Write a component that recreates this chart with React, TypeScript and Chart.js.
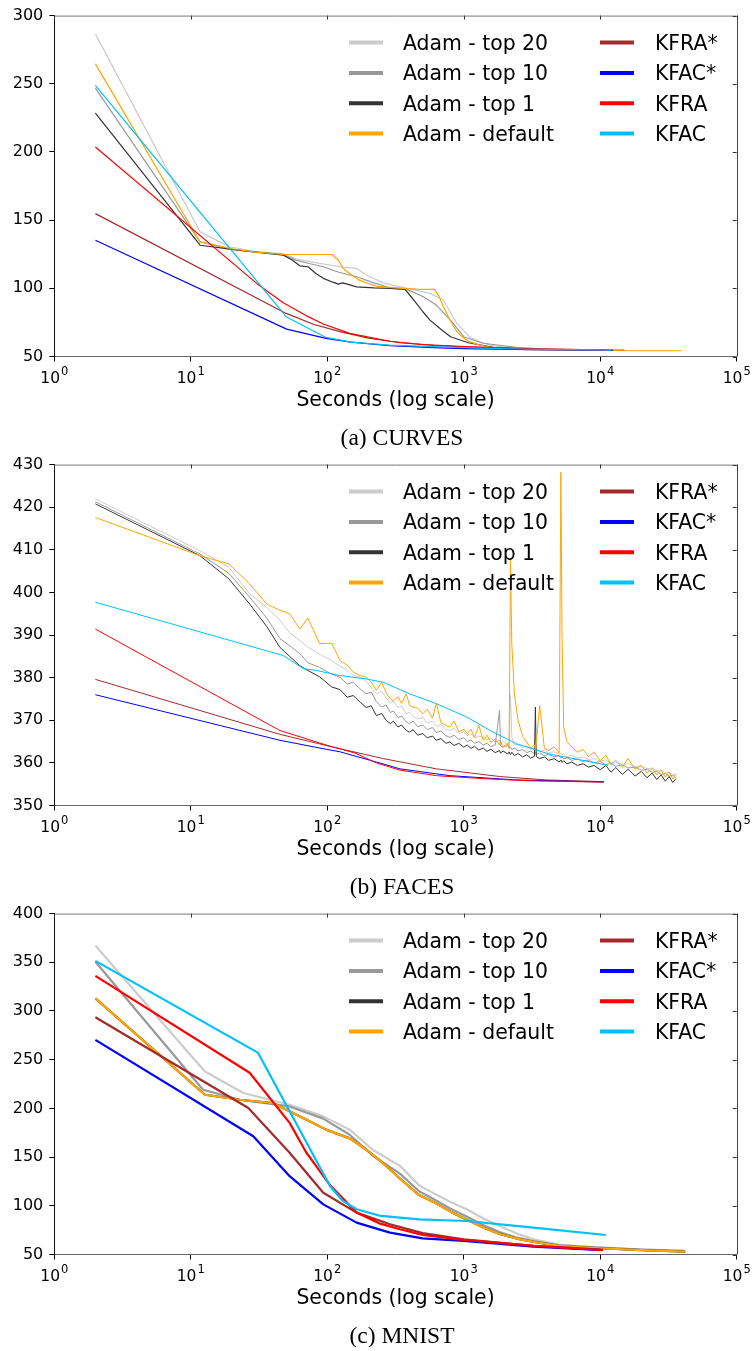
import React, { useEffect, useRef } from "react";
import { Chart, registerables } from "chart.js";

Chart.register(...registerables);

const SERIES_LABELS = ["Adam - top 20", "Adam - top 10", "Adam - top 1", "Adam - default", "KFRA*", "KFAC*", "KFRA", "KFAC"];
const SERIES_COLORS = ["#cccccc", "#999999", "#333333", "#ffa500", "#a52a2a", "#0000ff", "#ff0000", "#00bfff"];
const X_TICK_VALUES = [1, 10, 100, 1000, 10000, 100000];
const X_TICK_BASE = "10";
const X_TITLE = "Seconds (log scale)";
const CAPTIONS = ["(a) CURVES", "(b) FACES", "(c) MNIST"];

// ---------- (a) CURVES ----------
const aTop20T = [2, 11.7, 19.3, 30, 47, 60, 80, 105, 130, 164, 200, 258, 300, 371, 450, 566, 710, 890, 1100, 1300, 1560, 2000, 3000, 5000, 10000, 15000];
const aTop20V = [286.6, 141.4, 130.4, 127, 125.5, 121.5, 119, 117, 115.5, 114.6, 109, 104, 102.3, 100.3, 98.5, 96.3, 91.4, 74.3, 64.5, 61, 58.4, 56.7, 55.5, 55, 54.6, 54.5];
const aTop10T = [2, 11.7, 20, 30, 47, 59, 75, 93.5, 120, 164, 220, 288, 371, 430, 505, 630, 800, 1000, 1380, 2430, 4000, 10000, 15000];
const aTop10V = [246.8, 134, 128.5, 126.5, 125, 120.7, 118, 115.8, 112, 108.5, 104, 100.4, 99.8, 97, 93.8, 87.7, 76.7, 64.5, 59.7, 56.7, 55.5, 54.6, 54.5];
const aTop1T = [2, 11.7, 20, 30, 47.6, 55, 62.9, 72.5, 82, 93.5, 110, 120, 130, 164, 220, 288, 371, 410, 450, 500, 566, 680, 800, 1080, 1650, 3000, 10000, 15000];
const aTop1V = [228.5, 131.6, 128.5, 126.5, 124.3, 121, 116.5, 115.8, 111, 107.3, 104.5, 103.1, 104, 101.1, 100.3, 100, 99.2, 94, 89, 83, 76.7, 70, 64.5, 60.1, 56.7, 55.2, 54.6, 54.5];
const aDefaultT = [2, 11.7, 20, 30, 47.6, 70, 108, 120, 131, 150, 172, 200, 229, 300, 360, 450, 612, 660, 710, 800, 890, 1000, 1100, 1300, 1560, 2200, 3000, 6000, 10000, 20000, 39500];
const aDefaultV = [264.6, 134, 129, 126.5, 124.8, 124.8, 124.8, 121, 114.6, 110, 106, 103.5, 101.6, 100.5, 100, 99.4, 99.2, 94, 86.5, 76, 68.2, 63.5, 60.9, 58.5, 56.7, 55.6, 55, 54.6, 54.4, 54.2, 54.2];
const aKfraStarT = [2, 50, 80, 124, 200, 341, 600, 1000, 3000, 11000];
const aKfraStarV = [154.8, 81.6, 73.5, 68.2, 63.5, 60.1, 58.2, 57, 55.5, 54.8];
const aKfacStarT = [2, 50.4, 98, 150, 288, 600, 1000, 3000, 12400];
const aKfacStarV = [135.3, 70.1, 63.3, 60.5, 57.9, 56.5, 55.8, 55, 54.6];
const aKfraT = [2, 30.4, 47.6, 70, 93.5, 146, 288, 500, 1000, 3000, 10000, 11500];
const aKfraV = [203.6, 103.6, 89.4, 80, 73.8, 67, 61.2, 58.8, 57.2, 55.6, 54.8, 54.7];
const aKfacT = [2, 50, 98, 150, 288, 600, 1000, 3000, 10000, 12000];
const aKfacV = [248.8, 79.2, 64, 60.5, 58.4, 57.2, 56.5, 55.3, 54.8, 54.7];

// ---------- (b) FACES ----------
const bAdamT = [2, 11.7, 19, 27, 36, 45, 53, 63, 72, 88, 108, 124, 140, 155, 175, 193, 210, 229, 250, 270, 290, 305, 330, 350, 380, 400, 425, 460, 500, 540, 590, 630, 680, 740, 790, 850, 920, 1000, 1060, 1130, 1200, 1290, 1390, 1480, 1580, 1700, 1830, 1860, 1940, 2100, 2150, 2200, 2250, 2350, 2500, 2700, 2900, 3100, 3300, 3350, 3400, 3600, 3900, 4200, 4600, 5000, 5150, 5250, 5400, 5700, 6200, 6800, 7500, 8200, 9000, 10000, 11000, 12000, 13000, 14500, 16000, 18000, 20000, 22000, 24000, 26000, 28000, 30000, 32000, 34000, 36000];
const bTop20V = [421.95, 409.8, 405.9, 399.7, 396.5, 393.5, 390.5, 388.7, 387.2, 385.5, 384, 382.7, 381.8, 380.5, 380.1, 379.2, 377.6, 376.2, 376.8, 375.2, 374.1, 374.5, 373, 373.4, 371.5, 371.9, 371, 370.3, 370.7, 369.4, 369.8, 368.6, 369, 367.9, 367.6, 368.1, 366.9, 367.3, 366.4, 366.8, 365.9, 366.3, 366, 365.4, 365.8, 364.9, 365.3, 364.6, 365, 364.3, 364.7, 376, 366, 364.2, 364.4, 363.6, 364, 363.2, 363.5, 362.9, 363.3, 362.7, 363, 362.3, 362.6, 362, 362.3, 361.8, 362.1, 361.5, 361.8, 361.2, 361.4, 360.8, 361, 360.4, 360.7, 360, 360.2, 359.6, 359.8, 359.1, 359.3, 358.6, 358.8, 358.1, 358.3, 357.6, 357.8, 357.1, 357.3];
const bTop10V = [421.3, 409, 404.5, 398.9, 394, 389.2, 387.5, 385.6, 383.5, 382.4, 380.8, 380.1, 378.5, 378.9, 377.3, 376.2, 376.6, 374.4, 373.1, 373.6, 371.8, 372.2, 370.6, 371, 369.6, 369.2, 369.8, 368.5, 368.9, 367.8, 368.3, 367.1, 367.5, 366.4, 366, 366.5, 365.5, 365.9, 365, 365.4, 364.6, 365, 364.2, 364.6, 363.8, 364.2, 372.3, 364, 363.7, 364.1, 363.4, 363.8, 363.1, 363.5, 362.8, 363.1, 362.4, 362.8, 362.1, 362.5, 362, 362.3, 361.7, 362, 361.4, 361.7, 361.1, 361.4, 360.9, 361.2, 360.6, 360.9, 360.3, 360.6, 360, 360.3, 359.6, 359.9, 359.2, 359.5, 358.8, 359, 358.3, 358.5, 357.8, 358, 357.3, 357.5, 356.9, 357.1, 356.5];
const bTop1V = [420.8, 408.6, 403.2, 397.3, 392, 387.1, 385, 382.8, 381.7, 380.2, 377.8, 377.2, 375.4, 375.8, 374.2, 373, 373.4, 371.1, 371.6, 370, 369.2, 369.8, 368.4, 368.9, 367.6, 367.2, 367.8, 366.5, 366.9, 365.9, 366.3, 365.3, 365.7, 364.6, 364.9, 364.1, 364.6, 363.7, 364.2, 363.4, 363.9, 363, 363.5, 362.7, 363.2, 362.4, 362.9, 362.3, 362.8, 362.1, 362.6, 361.9, 362.5, 361.7, 362.2, 361.4, 361.9, 361.1, 361.6, 373.1, 361.5, 361, 361.4, 360.6, 361, 360.2, 360.7, 360.1, 360.5, 359.8, 360.2, 359.4, 359.8, 359, 359.4, 358.4, 359.4, 357.8, 358.9, 357.3, 358.5, 356.9, 358, 356.5, 357.6, 356.1, 357.2, 355.7, 356.8, 355.4, 356.3];
const bDefaultV = [417.6, 408.6, 406.7, 402, 397.3, 395.8, 395, 391.4, 394, 388, 388.1, 384, 383, 381.3, 380.5, 380.1, 379, 377, 378.9, 376.5, 375, 374.6, 375.5, 374, 376.2, 373.5, 373.1, 372.8, 371.5, 372.6, 370.5, 373.9, 369.5, 368.8, 368.4, 369.8, 367.3, 367.9, 366.8, 367.9, 366, 368.8, 365.3, 366.5, 364.8, 365.6, 364.2, 365, 363.7, 364.6, 363.5, 407.5, 388, 376.2, 370, 366.2, 364.8, 363.5, 364.2, 363.2, 364.5, 373.5, 363.4, 362.9, 363.8, 362.3, 428.2, 390, 368.4, 365, 363.7, 362.5, 363.2, 361.4, 362.6, 360.5, 361.8, 359.6, 360.6, 358.9, 361, 358.5, 359.4, 357.6, 358.7, 357.2, 358.3, 356.6, 357.9, 356.2, 357.5];
const bKfraStarT = [2, 45, 110, 258, 630, 1830, 4000, 10600];
const bKfraStarV = [379.6, 366.7, 363.7, 361, 358.6, 356.8, 356, 355.6];
const bKfacStarT = [2, 45, 98, 124, 229, 341, 790, 2430, 10600];
const bKfacStarV = [376, 365.3, 363.2, 362.6, 360.2, 358.6, 357, 356, 355.5];
const bKfraT = [2, 45, 98, 160, 229, 341, 630, 1390, 3000, 10600];
const bKfraV = [391.4, 367.6, 364.2, 362.3, 360, 358.3, 357, 356.3, 355.8, 355.5];
const bKfacT = [2, 47.6, 67, 83, 124, 193, 258, 402, 630, 1060, 1560, 2430, 4200, 7500, 11400];
const bKfacV = [397.7, 385.2, 382.1, 381.7, 380.5, 379.7, 378.9, 376.2, 373.9, 370.7, 367.6, 364.5, 362.1, 360.6, 359.4];

// ---------- (c) MNIST ----------
const cTop20T = [2, 9.9, 12.7, 24.3, 53, 93.5, 146, 218, 341, 470, 600, 800, 1050, 1400, 1830, 2500, 3250, 5000, 10000, 20000, 41000];
const cTop20V = [367.2, 255, 237.9, 215.8, 203.8, 191.8, 178.2, 157, 141, 121, 113, 104, 96.4, 87, 79.3, 71, 65.6, 60, 57.2, 55, 53.7];
const cTop10T = [2, 12.3, 22.9, 53, 93.5, 146, 218, 341, 470, 600, 800, 1050, 1400, 1830, 2500, 3250, 5000, 10000, 20000, 41000];
const cTop10V = [350.5, 219.2, 208.9, 202, 189.5, 173, 151, 133, 115, 107, 97, 89, 80, 73, 67, 63.9, 59.5, 57, 55, 53.7];
const cDefaultT = [2, 12.7, 22.9, 40, 70, 98, 146, 193, 250, 341, 470, 600, 800, 1050, 1400, 1830, 2500, 3250, 5000, 10000, 20000, 42000];
const cDefaultV = [313, 214, 208.9, 205.5, 188.5, 178.2, 169.2, 157.8, 145, 128, 111, 104, 94, 86, 77.5, 71, 66, 62.9, 59, 56.4, 54.5, 53];
const cKfraStarT = [2, 26.4, 53, 93.5, 164, 288, 500, 1000, 3250, 10000, 10500];
const cKfraStarV = [293.6, 200.4, 154.4, 113.4, 93, 81, 72, 65.6, 58.8, 55, 54.8];
const cKfacStarT = [2, 28.7, 53, 93.5, 164, 288, 500, 1000, 3250, 10300];
const cKfacStarV = [270.3, 171.4, 130.4, 101.5, 82.7, 72.5, 66.5, 63.9, 58.1, 54.4];
const cKfraT = [2, 27, 53, 70, 105, 164, 240, 341, 500, 1000, 3250, 10000, 10500];
const cKfraV = [336.1, 236.6, 185.1, 155, 121, 93, 82, 75.9, 70, 65, 58.8, 54.7, 54.6];
const cKfacT = [2, 31, 53, 105, 130, 164, 240, 341, 470, 1050, 3250, 11000];
const cKfacV = [351.5, 257.3, 197, 120, 105, 96.4, 90, 87.8, 86.1, 84.4, 77.6, 70];

type Series = { t: number[]; v: number[] };
type PanelSpec = { top: number; yMin: number; yMax: number; yStep: number; lw: number; caption: string; series: Series[] };

const PANELS: PanelSpec[] = [
  {
    top: 0, yMin: 50, yMax: 300, yStep: 50, lw: 1.2, caption: CAPTIONS[0],
    series: [
      { t: aTop20T, v: aTop20V }, { t: aTop10T, v: aTop10V }, { t: aTop1T, v: aTop1V }, { t: aDefaultT, v: aDefaultV },
      { t: aKfraStarT, v: aKfraStarV }, { t: aKfacStarT, v: aKfacStarV }, { t: aKfraT, v: aKfraV }, { t: aKfacT, v: aKfacV },
    ],
  },
  {
    top: 449, yMin: 350, yMax: 430, yStep: 10, lw: 1, caption: CAPTIONS[1],
    series: [
      { t: bAdamT, v: bTop20V }, { t: bAdamT, v: bTop10V }, { t: bAdamT, v: bTop1V }, { t: bAdamT, v: bDefaultV },
      { t: bKfraStarT, v: bKfraStarV }, { t: bKfacStarT, v: bKfacStarV }, { t: bKfraT, v: bKfraV }, { t: bKfacT, v: bKfacV },
    ],
  },
  {
    top: 898, yMin: 50, yMax: 400, yStep: 50, lw: 2.2, caption: CAPTIONS[2],
    series: [
      { t: cTop20T, v: cTop20V }, { t: cTop10T, v: cTop10V }, { t: cDefaultT, v: cDefaultV }, { t: cDefaultT, v: cDefaultV },
      { t: cKfraStarT, v: cKfraStarV }, { t: cKfacStarT, v: cKfacStarV }, { t: cKfraT, v: cKfraV }, { t: cKfacT, v: cKfacV },
    ],
  },
];

const FONT = "'DejaVu Sans', sans-serif";
const CANVAS_W = 754;
const CANVAS_H = 449;

function decorPlugin(spec: PanelSpec) {
  return {
    id: "decor",
    afterDraw(chart: any) {
      const { ctx, chartArea } = chart;
      const { left, right, top, bottom } = chartArea;
      const xs = chart.scales.x;
      const ys = chart.scales.y;
      ctx.save();
      // top & right spines
      ctx.lineWidth = 1;
      ctx.strokeStyle = "#777";
      ctx.beginPath();
      ctx.moveTo(left, top + 0.5);
      ctx.lineTo(right, top + 0.5);
      ctx.stroke();
      ctx.strokeStyle = "#444";
      ctx.beginPath();
      ctx.moveTo(Math.round(right) + 0.5, top);
      ctx.lineTo(Math.round(right) + 0.5, bottom);
      ctx.stroke();
      // inward ticks on top and right
      ctx.strokeStyle = "#333";
      X_TICK_VALUES.forEach((v) => {
        const px = Math.round(xs.getPixelForValue(v)) + 0.5;
        ctx.beginPath();
        ctx.moveTo(px, top);
        ctx.lineTo(px, top + 4);
        ctx.stroke();
      });
      ys.ticks.forEach((tk: any) => {
        const py = Math.round(ys.getPixelForValue(tk.value)) + 0.5;
        ctx.beginPath();
        ctx.moveTo(right, py);
        ctx.lineTo(right - 4, py);
        ctx.stroke();
      });
      // x tick labels: base "10" with a raised exponent
      ctx.fillStyle = "#000";
      ctx.textAlign = "left";
      ctx.textBaseline = "alphabetic";
      X_TICK_VALUES.forEach((v) => {
        const px = xs.getPixelForValue(v);
        const exp = String(Math.round(Math.log10(v)));
        ctx.font = `15.5px ${FONT}`;
        const w1 = ctx.measureText(X_TICK_BASE).width;
        ctx.font = `11.5px ${FONT}`;
        const w2 = ctx.measureText(exp).width;
        const x0 = px - (w1 + 1 + w2) / 2;
        ctx.font = `15.5px ${FONT}`;
        ctx.fillText(X_TICK_BASE, x0, bottom + 26.2);
        ctx.font = `11.5px ${FONT}`;
        ctx.fillText(exp, x0 + w1 + 1, bottom + 18.5);
      });
      // legend
      ctx.font = `20.4px ${FONT}`;
      SERIES_LABELS.forEach((label, i) => {
        const col = Math.floor(i / 4);
        const row = i % 4;
        const y = top + 27 + 30.3 * row;
        const hx = col === 0 ? 349 : 600;
        const tx = col === 0 ? 403 : 655;
        ctx.strokeStyle = SERIES_COLORS[i];
        ctx.lineWidth = 4;
        ctx.beginPath();
        ctx.moveTo(hx, y);
        ctx.lineTo(hx + 34, y);
        ctx.stroke();
        ctx.fillStyle = "#000";
        ctx.fillText(label, tx, y + 7.5);
      });
      // caption
      ctx.font = `23.5px 'Liberation Serif', serif`;
      ctx.textAlign = "center";
      ctx.fillStyle = "#000";
      ctx.fillText(spec.caption, 402, bottom + 88.3);
      ctx.restore();
    },
  };
}

function makeConfig(spec: PanelSpec): any {
  const datasets = spec.series.map((s, i) => {
    const n = Math.min(s.t.length, s.v.length);
    const data = [] as { x: number; y: number }[];
    for (let j = 0; j < n; j++) data.push({ x: s.t[j], y: s.v[j] });
    return {
      label: SERIES_LABELS[i],
      data,
      borderColor: SERIES_COLORS[i],
      backgroundColor: SERIES_COLORS[i],
      borderWidth: spec.lw,
      pointRadius: 0,
      pointHoverRadius: 0,
      tension: 0,
      fill: false,
      order: -i,
      borderJoinStyle: "round",
    };
  });
  return {
    type: "line",
    data: { datasets },
    options: {
      responsive: false,
      animation: false,
      events: [],
      layout: { padding: { left: 0, right: 17.3, top: 15, bottom: 29 } },
      scales: {
        x: {
          type: "logarithmic",
          min: 1,
          max: 100000,
          afterBuildTicks: (sc: any) => {
            sc.ticks = X_TICK_VALUES.map((v) => ({ value: v }));
          },
          afterFit: (sc: any) => {
            sc.height = 63.5;
          },
          ticks: {
            autoSkip: false,
            maxRotation: 0,
            padding: 3,
            color: "#000",
            font: { family: FONT, size: 16 },
            callback: () => "",
          },
          grid: { drawOnChartArea: false, drawTicks: true, tickLength: 5, color: "#000" },
          border: { display: true, color: "#666", width: 1 },
          title: {
            display: true,
            text: X_TITLE,
            color: "#000",
            font: { family: FONT, size: 20.4 },
            padding: { top: 0, bottom: 7.5 },
          },
        },
        y: {
          type: "linear",
          min: spec.yMin,
          max: spec.yMax,
          afterFit: (sc: any) => {
            sc.width = 54.3;
          },
          ticks: {
            stepSize: spec.yStep,
            padding: 6,
            color: "#000",
            font: { family: FONT, size: 16 },
          },
          grid: { drawOnChartArea: false, drawTicks: true, tickLength: 5, color: "#000" },
          border: { display: true, color: "#111", width: 1 },
        },
      },
      plugins: {
        legend: { display: false },
        tooltip: { enabled: false },
        title: { display: false },
      },
    },
    plugins: [decorPlugin(spec)],
  };
}

function Panel({ spec }: { spec: PanelSpec }) {
  const ref = useRef<HTMLCanvasElement | null>(null);
  useEffect(() => {
    if (!ref.current) return;
    const chart = new Chart(ref.current, makeConfig(spec));
    return () => chart.destroy();
  }, [spec]);
  return (
    <div style={{ position: "absolute", left: 0, top: spec.top, width: CANVAS_W, height: CANVAS_H }}>
      <canvas ref={ref} width={CANVAS_W} height={CANVAS_H} style={{ width: CANVAS_W, height: CANVAS_H, display: "block" }} />
    </div>
  );
}

export default function App() {
  return (
    <div style={{ position: "absolute", left: 0, top: 0, width: 754, height: 1351, background: "#fff" }}>
      {PANELS.map((p, i) => (
        <Panel key={i} spec={p} />
      ))}
    </div>
  );
}
